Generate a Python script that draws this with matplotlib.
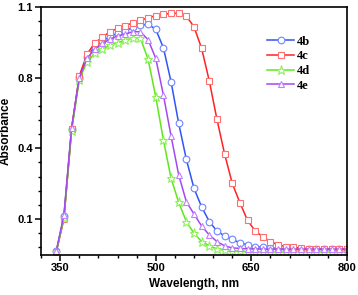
import numpy as np
import matplotlib
matplotlib.use("Agg")
import matplotlib.pyplot as plt
from matplotlib.ticker import FixedLocator

# data
wavelength = [344, 356, 368, 380, 392, 404, 416, 428, 440, 452, 464, 476, 488,
              500, 512, 524, 536, 548, 560, 572, 584, 596, 608, 620, 632, 644,
              656, 668, 680, 692, 704, 716, 728, 740, 752, 764, 776, 788, 800]

abs_4b = [-0.038, 0.113, 0.512, 0.801, 0.889, 0.931, 0.955, 0.974, 0.988, 0.998,
          1.013, 1.023, 1.027, 1.005, 0.927, 0.777, 0.541, 0.353, 0.230, 0.151,
          0.089, 0.049, 0.028, 0.013, -0.001, -0.010, -0.017, -0.021, -0.024,
          -0.025, -0.026, -0.026, -0.026, -0.027, -0.027, -0.027, -0.027, -0.027,
          -0.027]
abs_4c = [-0.040, 0.100, 0.509, 0.807, 0.899, 0.946, 0.971, 0.995, 1.009, 1.020,
          1.033, 1.044, 1.054, 1.063, 1.069, 1.073, 1.073, 1.061, 1.016, 0.924,
          0.781, 0.564, 0.376, 0.251, 0.169, 0.094, 0.049, 0.024, 0.004, -0.010,
          -0.017, -0.020, -0.024, -0.026, -0.027, -0.027, -0.028, -0.028, -0.028]
abs_4d = [-0.040, 0.104, 0.498, 0.786, 0.867, 0.903, 0.920, 0.938, 0.948, 0.960,
          0.967, 0.967, 0.878, 0.692, 0.447, 0.273, 0.170, 0.089, 0.039, 0.004,
          -0.014, -0.027, -0.033, -0.037, -0.038, -0.039, -0.040, -0.040, -0.040,
          -0.040, -0.040, -0.040, -0.040, -0.040, -0.040, -0.040, -0.040, -0.040,
          -0.040]
abs_4e = [-0.036, 0.117, 0.517, 0.796, 0.882, 0.920, 0.946, 0.963, 0.977, 0.985,
          0.995, 0.995, 0.961, 0.882, 0.702, 0.470, 0.287, 0.173, 0.121, 0.070,
          0.032, 0.004, -0.014, -0.023, -0.025, -0.027, -0.027, -0.028, -0.028,
          -0.028, -0.028, -0.028, -0.028, -0.028, -0.028, -0.028, -0.028, -0.028,
          -0.028]

labels = ["4b", "4c", "4d", "4e"]
series = [abs_4b, abs_4c, abs_4d, abs_4e]
colors = ["#2f55f5", "#ff2222", "#5fe61e", "#a548f2"]
edge_colors = ["#6f86ff", "#ff6f6f", "#8cf05a", "#bf80ff"]
markers = ["o", "s", "*", "^"]

y_major = [0.1, 0.4, 0.8, 1.1]

# the reference axis spaces its labelled ticks evenly
y_vals = [-0.5, 0.1, 0.4, 0.8, 1.1, 1.7]
y_pos = [-2, 0, 1, 2, 3, 5]


def fwd(v):
    return np.interp(v, y_vals, y_pos)


def inv(p):
    return np.interp(p, y_pos, y_vals)


fig = plt.figure(figsize=(3.58, 2.95), dpi=100)
ax = fig.add_axes([41 / 358, 1 - 255 / 295, 306 / 358, 248 / 295])

for lab, ys, c, ec, m in zip(labels, series, colors, edge_colors, markers):
    ms = 6.5 if m == "*" else 4.8
    ax.plot(wavelength, ys, color=c, lw=1.1, marker=m, ms=ms,
            mfc="white", mec=ec, mew=0.8, label=lab)

ax.set_yscale("function", functions=(fwd, inv))
ax.set_xlim(320, 800)
ax.set_ylim(-0.053, 1.1)

ax.xaxis.set_major_locator(FixedLocator([350, 500, 650, 800]))
ax.xaxis.set_minor_locator(FixedLocator([320, 380, 410, 440, 470, 530, 560, 590,
                                         620, 680, 710, 740, 770]))
minor_y = [0.04, -0.02]
for a, b in zip(y_major[:-1], y_major[1:]):
    minor_y += list(np.linspace(a, b, 6)[1:-1])
ax.yaxis.set_major_locator(FixedLocator(y_major))
ax.yaxis.set_minor_locator(FixedLocator(minor_y))
ax.set_yticklabels([str(v) for v in y_major])

tick_font = dict(family="Liberation Sans", weight="bold", size=8)
for t in ax.get_xticklabels() + ax.get_yticklabels():
    t.set_fontproperties(matplotlib.font_manager.FontProperties(**tick_font))

ax.tick_params(which="major", direction="out", length=4, width=1.1, pad=2,
               top=False, right=False)
ax.tick_params(which="minor", direction="out", length=2.5, width=1.0,
               top=False, right=False)
for s in ax.spines.values():
    s.set_linewidth(1.2)

ax.set_xlabel("Wavelength, nm", family="Liberation Sans", weight="bold",
              size=8.5, labelpad=3)
ax.set_ylabel("Absorbance", family="Liberation Sans", weight="bold",
              size=8.5, labelpad=4)

ax.legend(loc="upper left", bbox_to_anchor=(0.718, 0.91), frameon=False,
          borderpad=0, labelspacing=0.22, handlelength=2.2, handletextpad=0.2,
          prop=dict(family="Liberation Serif", weight="bold", size=9))

fig.savefig("out.png", dpi=100)
